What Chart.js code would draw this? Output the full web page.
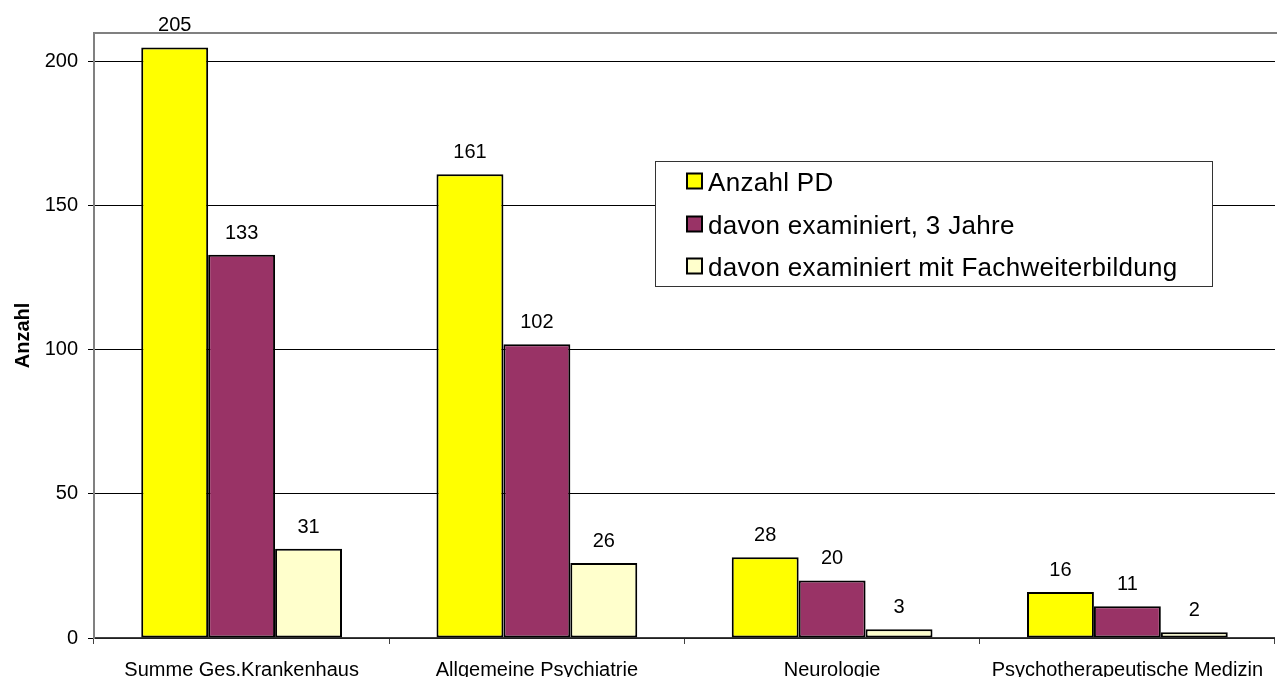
<!DOCTYPE html>
<html>
<head>
<meta charset="utf-8">
<script src="https://cdn.jsdelivr.net/npm/chart.js@4"></script>
<style>
  html, body { margin: 0; padding: 0; background: #fff; overflow: hidden; }
  #wrap { width: 1277px; height: 677px; position: relative; overflow: hidden; }
</style>
</head>
<body>
<div id="wrap"><canvas id="c" width="1277" height="677"></canvas></div>
<script>
const categories = ['Summe Ges.Krankenhaus', 'Allgemeine Psychiatrie', 'Neurologie', 'Psychotherapeutische Medizin'];
const seriesLabels = ['Anzahl PD', 'davon examiniert, 3 Jahre', 'davon examiniert mit Fachweiterbildung'];
const anzahlPD = [205, 161, 28, 16];
const examiniert3 = [133, 102, 20, 11];
const fachweiter = [31, 26, 3, 2];
const yTicks = [0, 50, 100, 150, 200];
const yTitle = 'Anzahl';

const FONT = '"Liberation Sans", Arial, sans-serif';

const valueLabels = {
  id: 'valueLabels',
  afterDatasetsDraw(chart) {
    const ctx = chart.ctx;
    ctx.save();
    ctx.font = '20px ' + FONT;
    ctx.fillStyle = '#000';
    ctx.textAlign = 'center';
    ctx.textBaseline = 'alphabetic';
    chart.data.datasets.forEach((ds, i) => {
      const meta = chart.getDatasetMeta(i);
      meta.data.forEach((el, j) => {
        ctx.fillText(String(ds.data[j]), el.x, el.y - 16);
      });
    });
    ctx.restore();
  }
};

const frame = {
  id: 'frame',
  afterDraw(chart) {
    const ctx = chart.ctx, a = chart.chartArea;
    ctx.save();
    ctx.strokeStyle = '#808080';
    ctx.lineWidth = 2;
    ctx.beginPath();
    ctx.moveTo(a.left - 1, a.top);
    ctx.lineTo(chart.width, a.top);
    ctx.stroke();
    ctx.restore();
  }
};

const boxLegend = {
  id: 'boxLegend',
  afterDraw(chart) {
    const ctx = chart.ctx;
    const bx = 655, by = 161, bw = 557, bh = 125;
    ctx.save();
    ctx.fillStyle = '#fff';
    ctx.fillRect(bx, by, bw, bh);
    ctx.strokeStyle = '#333';
    ctx.lineWidth = 1;
    ctx.strokeRect(bx + 0.5, by + 0.5, bw, bh);
    const rows = [181, 224, 266];
    ctx.font = '26px ' + FONT;
    if ('letterSpacing' in ctx) ctx.letterSpacing = '0.3px';
    ctx.textAlign = 'left';
    ctx.textBaseline = 'alphabetic';
    chart.data.datasets.forEach((ds, i) => {
      const cy = rows[i];
      ctx.fillStyle = ds.backgroundColor;
      ctx.fillRect(687, cy - 7.5, 15, 15);
      ctx.strokeStyle = '#000';
      ctx.lineWidth = 2;
      ctx.strokeRect(687, cy - 7.5, 15, 15);
      ctx.fillStyle = '#000';
      ctx.fillText(ds.label, 708, cy + 9.5);
    });
    ctx.restore();
  }
};

new Chart(document.getElementById('c'), {
  type: 'bar',
  data: {
    labels: categories,
    datasets: [
      { label: seriesLabels[0], data: anzahlPD, backgroundColor: '#FFFF00' },
      { label: seriesLabels[1], data: examiniert3, backgroundColor: '#993366' },
      { label: seriesLabels[2], data: fachweiter, backgroundColor: '#FFFFCC' }
    ]
  },
  options: {
    responsive: false,
    animation: false,
    devicePixelRatio: 1,
    layout: { padding: { top: 33, right: 0, left: 0, bottom: 0 } },
    datasets: {
      bar: {
        borderColor: '#000',
        borderWidth: 2,
        borderSkipped: false,
        categoryPercentage: 0.68,
        barPercentage: 1
      }
    },
    plugins: {
      legend: { display: false },
      tooltip: { enabled: false },
      title: { display: false }
    },
    scales: {
      x: {
        afterFit(s) { s.height = 39; },
        border: { color: '#404040', width: 1.5 },
        grid: { offset: true, drawOnChartArea: false, drawTicks: true, tickLength: 6, color: '#404040', lineWidth: 1 },
        ticks: { color: '#000', font: { family: FONT, size: 20 }, padding: 14, maxRotation: 0, autoSkip: false }
      },
      y: {
        min: 0,
        max: 210,
        afterFit(s) { s.width = 94; },
        afterBuildTicks(s) { s.ticks = yTicks.map(v => ({ value: v })); },
        border: { color: '#808080', width: 2 },
        grid: { color: '#000', lineWidth: 1, tickLength: 6, drawTicks: true },
        ticks: { color: '#000', font: { family: FONT, size: 20 }, padding: 10 },
        title: { display: true, text: yTitle, color: '#000', font: { family: FONT, size: 20, weight: 'bold' }, padding: { top: 11, bottom: 0 } }
      }
    }
  },
  plugins: [valueLabels, frame, boxLegend]
});
</script>
</body>
</html>
